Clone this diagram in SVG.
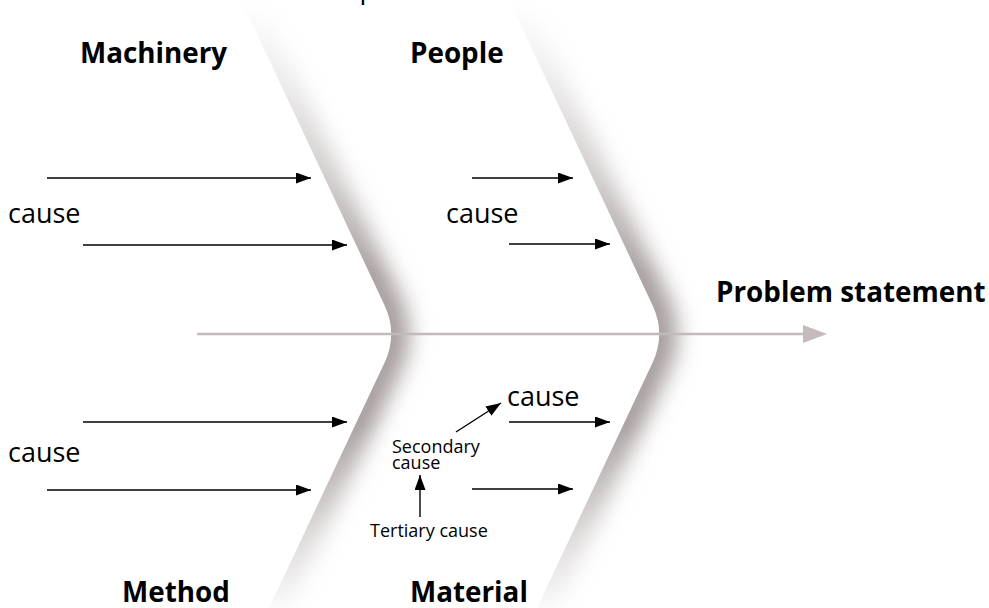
<svg xmlns="http://www.w3.org/2000/svg" width="989" height="608" viewBox="0 0 989 608">
<style>
.cat{font-family:"Open Sans","Noto Sans",sans-serif;font-weight:700;font-size:27.8px;fill:#000}
.cause{font-family:"Open Sans","Noto Sans",sans-serif;font-size:27px;fill:#000}
.small{font-family:"Open Sans","Noto Sans",sans-serif;font-size:18px;fill:#000}
.arr{stroke:#000;stroke-width:1.4;fill:none;marker-end:url(#ah)}
.shade{fill:none;stroke:#a59c9c;stroke-width:36;filter:url(#blur)}
</style>
<defs>
<marker id="ah" viewBox="0 0 15 11" refX="15" refY="5.5" markerWidth="15" markerHeight="11" markerUnits="userSpaceOnUse" orient="auto">
<path d="M0,0 L15,5.5 L0,11 Z" fill="#000"/>
</marker>
<filter id="blur" filterUnits="userSpaceOnUse" x="-100" y="-100" width="1200" height="820">
<feGaussianBlur stdDeviation="11"/>
</filter>
<linearGradient id="vfade" gradientUnits="userSpaceOnUse" x1="0" y1="0" x2="0" y2="608">
<stop offset="0" stop-color="#fff" stop-opacity="0"/>
<stop offset="0.1" stop-color="#fff" stop-opacity="0.15"/>
<stop offset="0.3" stop-color="#fff" stop-opacity="0.55"/>
<stop offset="0.45" stop-color="#fff" stop-opacity="1"/>
<stop offset="0.7" stop-color="#fff" stop-opacity="1"/>
<stop offset="0.88" stop-color="#fff" stop-opacity="0.4"/>
<stop offset="1" stop-color="#fff" stop-opacity="0.08"/>
</linearGradient>
<mask id="fade" maskUnits="userSpaceOnUse" x="0" y="0" width="989" height="608">
<rect x="0" y="0" width="989" height="608" fill="url(#vfade)"/>
</mask>
<clipPath id="band1">
<path d="M241,0 L384.4,305 Q398,334 384.4,363 L269,608 L329,608 L444,363 Q458,334 444,305 L301,0 Z"/>
</clipPath>
<clipPath id="band2">
<path d="M509,0 L652.4,305 Q666,334 652.4,363 L537,608 L597,608 L712,363 Q726,334 712,305 L569,0 Z"/>
</clipPath>
</defs>

<g id="chevron1" mask="url(#fade)">
<g clip-path="url(#band1)">
<path class="shade" d="M241,0 L384.4,305 Q398,334 384.4,363 L269,608"/>
</g>
</g>
<g id="chevron2" mask="url(#fade)">
<g clip-path="url(#band2)">
<path class="shade" d="M509,0 L652.4,305 Q666,334 652.4,363 L537,608"/>
</g>
</g>

<g id="spine">
<line x1="197" y1="334" x2="804" y2="334" stroke="#c2baba" stroke-width="2.4"/>
<path d="M803,325 L827,334 L803,343 Z" fill="#c4bcbc"/>
</g>

<g id="connectors">
<line class="arr" x1="47" y1="178" x2="311" y2="178"/>
<line class="arr" x1="83" y1="245" x2="347" y2="245"/>
<line class="arr" x1="472" y1="178" x2="573" y2="178"/>
<line class="arr" x1="509" y1="244" x2="610" y2="244"/>
<line class="arr" x1="83" y1="422" x2="347" y2="422"/>
<line class="arr" x1="47" y1="490" x2="311" y2="490"/>
<line class="arr" x1="509" y1="422" x2="610" y2="422"/>
<line class="arr" x1="472" y1="489" x2="573" y2="489"/>
<line class="arr" x1="456" y1="432" x2="501" y2="403"/>
<line class="arr" x1="420" y1="517" x2="420" y2="475"/>
</g>

<g id="top-fragment"><text class="cause" x="359.5" y="-1.7">p</text></g>
<g id="machinery"><text class="cat" x="80" y="63">Machinery</text></g>
<g id="people"><text class="cat" x="410" y="63">People</text></g>
<g id="method"><text class="cat" x="122" y="602">Method</text></g>
<g id="material"><text class="cat" x="410" y="602">Material</text></g>
<g id="problem"><text class="cat" x="716" y="302">Problem statement</text></g>
<g id="cause-machinery"><text class="cause" x="8" y="223">cause</text></g>
<g id="cause-people"><text class="cause" x="446" y="223">cause</text></g>
<g id="cause-method"><text class="cause" x="8" y="462">cause</text></g>
<g id="cause-material"><text class="cause" x="507" y="406">cause</text></g>
<g id="secondary"><text class="small" x="392" y="453">Secondary</text><text class="small" x="392" y="469">cause</text></g>
<g id="tertiary"><text class="small" x="370" y="537">Tertiary cause</text></g>
</svg>
